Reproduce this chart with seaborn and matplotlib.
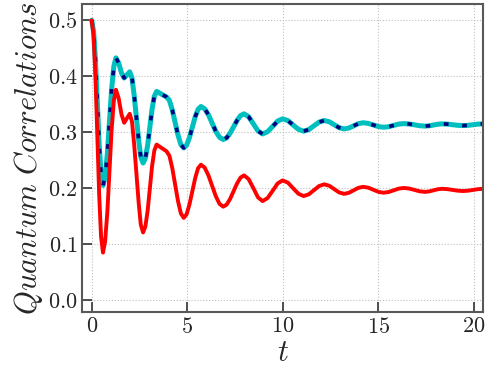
import numpy as np
import pandas as pd
import matplotlib
matplotlib.use("Agg")
import matplotlib.pyplot as plt
import seaborn as sns
from matplotlib.ticker import FuncFormatter

# values
t = [0.0, 0.10, 0.20, 0.295, 0.39, 0.49, 0.59, 0.70, 0.82, 0.93, 1.04, 1.16, 1.27,
     1.41, 1.56, 1.70, 1.845, 1.99, 2.11, 2.22, 2.34, 2.46, 2.57, 2.69, 2.81, 2.93,
     3.045, 3.16, 3.28, 3.40, 3.66, 3.92, 4.07, 4.22, 4.37, 4.52, 4.67, 4.82, 4.97,
     5.12, 5.27, 5.42, 5.57, 5.72, 5.915, 6.11, 6.305, 6.50, 6.695, 6.89, 7.07, 7.25,
     7.435, 7.62, 7.80, 7.98, 8.22, 8.47, 8.71, 8.95, 9.21, 9.48, 9.74, 10.0, 10.28,
     10.55, 10.83, 11.1, 11.37, 11.64, 11.91, 12.18, 12.44, 12.70, 12.96, 13.22, 13.47,
     13.72, 13.97, 14.22, 14.49, 14.75, 15.02, 15.28, 15.55, 15.82, 16.08, 16.35, 16.63,
     16.91, 17.18, 17.46, 17.68, 17.91, 18.13, 18.35, 18.63, 18.9, 19.18, 19.45, 19.71,
     19.98, 20.24, 20.5]

qc_cyan = [0.500, 0.480, 0.426, 0.3525, 0.279, 0.225, 0.205, 0.220, 0.262, 0.319, 0.376,
           0.418, 0.433, 0.424, 0.406, 0.397, 0.4025, 0.408, 0.397, 0.367, 0.3265, 0.286,
           0.256, 0.245, 0.2536, 0.277, 0.309, 0.341, 0.3644, 0.373, 0.368, 0.363, 0.3569,
           0.340, 0.3175, 0.295, 0.278, 0.272, 0.277, 0.2905, 0.309, 0.3275, 0.341, 0.346,
           0.342, 0.3315, 0.3165, 0.3018, 0.291, 0.287, 0.2901, 0.2985, 0.310, 0.3215,
           0.3299, 0.333, 0.3277, 0.315, 0.3023, 0.297, 0.3009, 0.3105, 0.3201, 0.324,
           0.3208, 0.313, 0.3052, 0.302, 0.3048, 0.3115, 0.3182, 0.321, 0.3188, 0.3135,
           0.3082, 0.306, 0.3076, 0.3115, 0.3154, 0.317, 0.3158, 0.313, 0.3102, 0.309,
           0.3099, 0.3123, 0.3146, 0.3155, 0.3148, 0.3133, 0.3117, 0.311, 0.3116, 0.313,
           0.3144, 0.315, 0.3146, 0.3135, 0.3124, 0.312, 0.3124, 0.3135, 0.3146, 0.315]

qc_red = [0.500, 0.472, 0.396, 0.2925, 0.189, 0.113, 0.085, 0.1045, 0.158, 0.2305, 0.303,
          0.3565, 0.376, 0.361, 0.332, 0.317, 0.325, 0.333, 0.319, 0.280, 0.227, 0.174,
          0.135, 0.121, 0.1315, 0.160, 0.1995, 0.239, 0.2675, 0.278, 0.272, 0.266, 0.258,
          0.236, 0.2065, 0.177, 0.155, 0.147, 0.1534, 0.171, 0.1945, 0.218, 0.2357, 0.242,
          0.237, 0.2233, 0.2045, 0.1858, 0.172, 0.167, 0.1708, 0.181, 0.195, 0.209, 0.2192,
          0.223, 0.2163, 0.200, 0.1837, 0.177, 0.1824, 0.1955, 0.2086, 0.214, 0.2099,
          0.200, 0.1901, 0.186, 0.1891, 0.1965, 0.2039, 0.207, 0.2045, 0.1985, 0.1925,
          0.190, 0.1918, 0.1963, 0.2007, 0.2025, 0.201, 0.1973, 0.1935, 0.192, 0.1932,
          0.1963, 0.1993, 0.2005, 0.1995, 0.197, 0.1945, 0.1935, 0.1943, 0.1963, 0.1982,
          0.199, 0.1984, 0.197, 0.1956, 0.195, 0.1956, 0.197, 0.1984, 0.199]

df = pd.DataFrame({'t': t, 'cyan': qc_cyan, 'red': qc_red})

sns.set_style("whitegrid")
plt.rcParams['font.family'] = 'serif'
plt.rcParams['font.serif'] = ['cmr10']
plt.rcParams['mathtext.fontset'] = 'cm'
plt.rcParams['axes.formatter.use_mathtext'] = True

fig, ax = plt.subplots(figsize=(4.98, 3.74), dpi=100)
fig.subplots_adjust(left=0.165, right=0.970, bottom=0.166, top=0.989)

sns.lineplot(data=df, x='t', y='cyan', color='#00bfbf', lw=3.6, ax=ax)
sns.lineplot(data=df, x='t', y='cyan', color='#000080', lw=2.6, ax=ax)
ax.lines[-1].set_dashes([1.3, 3.8])
sns.lineplot(data=df, x='t', y='red', color='#ff0000', lw=2.8, ax=ax)

ax.set_xlim(-0.5, 20.5)
ax.set_ylim(-0.021, 0.529)
ax.set_xticks([0, 5, 10, 15, 20])
ax.set_yticks([0.0, 0.1, 0.2, 0.3, 0.4, 0.5])
ax.xaxis.set_major_formatter(FuncFormatter(lambda v, p: f'${v:g}$'))
ax.yaxis.set_major_formatter(FuncFormatter(lambda v, p: f'${v:.1f}$'))

ax.grid(True, linestyle=':', color='0.75', linewidth=0.8)
ax.tick_params(direction='in', length=7, width=1.2, labelsize=16, color='0.2',
               left=True, bottom=True, top=False, right=False)
for s in ax.spines.values():
    s.set_color('0.35')
    s.set_linewidth(1.5)

ax.set_xlabel(r'$t$', fontsize=22, labelpad=2)
ax.set_ylabel(r'$Quantum\ Correlations$', fontsize=22, labelpad=2)

plt.savefig('out.png', dpi=100)
plt.close()
